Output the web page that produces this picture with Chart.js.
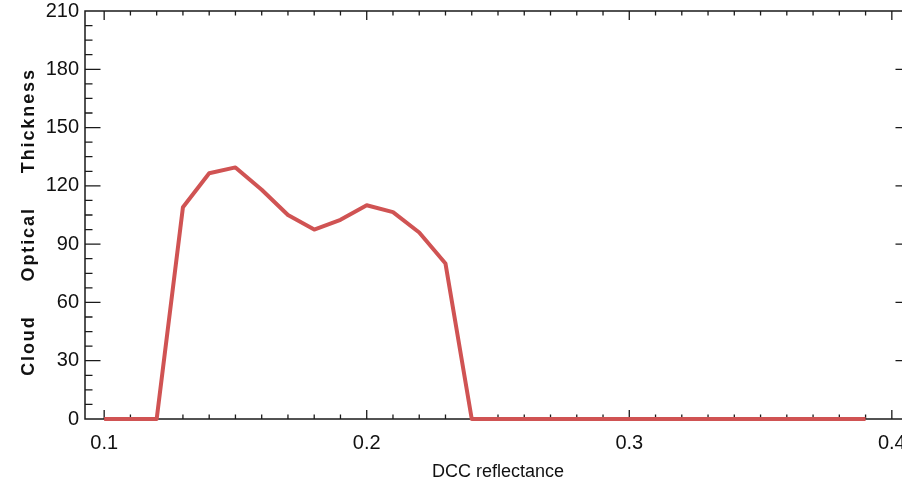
<!DOCTYPE html>
<html>
<head>
<meta charset="utf-8">
<script src="https://cdn.jsdelivr.net/npm/chart.js@4/dist/chart.umd.min.js"></script>
<style>
  html, body { margin: 0; padding: 0; background: #fff; overflow: hidden; }
  #wrap { width: 920px; height: 483px; }
</style>
</head>
<body>
<div id="wrap"><canvas id="cotChart"></canvas></div>
<script>
// DCC reflectance vs cloud optical thickness
const reflectance = [0.10, 0.11, 0.12, 0.13, 0.14, 0.15, 0.16, 0.17, 0.18, 0.19,
                     0.20, 0.21, 0.22, 0.23, 0.24, 0.25, 0.26, 0.27, 0.28, 0.29,
                     0.30, 0.31, 0.32, 0.33, 0.34, 0.35, 0.36, 0.37, 0.38, 0.39];
const thickness = [0, 0, 0, 109, 126.5, 129.5, 118, 105, 97.5, 102.5,
                   110, 106.5, 96, 80, 0, 0, 0, 0, 0, 0,
                   0, 0, 0, 0, 0, 0, 0, 0, 0, 0];
const xTickValues = [0.1, 0.2, 0.3, 0.4];
const yTickValues = [0, 30, 60, 90, 120, 150, 180, 210];
const xMinorStep = 0.01;
const yMinorStep = 7.5;
const yTitle = 'Cloud Optical Thickness';

const labelFont = "'Liberation Sans Narrow', 'Arial Narrow', 'Liberation Sans', sans-serif";
const axisColor = '#1a1a1a';

// IDL style box: ticks point inward on all four sides
const boxAxes = {
  id: 'boxAxes',
  beforeDatasetsDraw(chart) {
    const { ctx, chartArea: a, scales: { x, y } } = chart;
    ctx.save();
    ctx.strokeStyle = axisColor;
    ctx.lineWidth = 1.5;
    ctx.strokeRect(a.left, a.top, a.right - a.left, a.bottom - a.top);

    ctx.lineWidth = 1.3;
    ctx.beginPath();
    const nx = Math.round((x.max - x.min) / xMinorStep) + 2;
    const k0 = Math.floor(x.min / xMinorStep);
    for (let k = k0; k <= k0 + nx; k++) {
      const px = x.getPixelForValue(k * xMinorStep);
      if (px < a.left + 1 || px > a.right - 1) continue;
      const len = k % 10 === 0 ? 9 : 4.5;
      ctx.moveTo(px, a.bottom); ctx.lineTo(px, a.bottom - len);
      ctx.moveTo(px, a.top); ctx.lineTo(px, a.top + len);
    }
    for (let i = 0; i * yMinorStep <= y.max + 1e-9; i++) {
      const py = y.getPixelForValue(i * yMinorStep);
      if (py > a.bottom - 1 || py < a.top + 1) continue;
      const len = i % 4 === 0 ? 15.5 : 7.5;
      ctx.moveTo(a.left, py); ctx.lineTo(a.left + len, py);
      ctx.moveTo(a.right, py); ctx.lineTo(a.right - len, py);
    }
    ctx.stroke();
    ctx.restore();
  },
  afterDraw(chart) {
    // spaced-out bold y title
    const { ctx, chartArea: a } = chart;
    ctx.save();
    ctx.translate(29, (a.top + a.bottom) / 2 + 7);
    ctx.rotate(-Math.PI / 2);
    ctx.font = "bold 18px 'Liberation Sans', Arial, sans-serif";
    ctx.letterSpacing = '1.9px';
    ctx.wordSpacing = '27px';
    ctx.fillStyle = '#111';
    ctx.textAlign = 'center';
    ctx.textBaseline = 'middle';
    ctx.fillText(yTitle, 0, 0);
    ctx.restore();
  }
};

const ctx = document.getElementById('cotChart').getContext('2d');
new Chart(ctx, {
  type: 'line',
  data: {
    datasets: [{
      data: reflectance.map((r, i) => ({ x: r, y: thickness[i] })),
      borderColor: '#d05353',
      borderWidth: 4,
      borderJoinStyle: 'round',
      pointRadius: 0,
      tension: 0,
      fill: false,
      clip: 6
    }]
  },
  options: {
    responsive: true,
    maintainAspectRatio: false,
    animation: false,
    layout: { padding: { top: 11, right: 9, bottom: 0, left: 0 } },
    plugins: { legend: { display: false }, tooltip: { enabled: false } },
    scales: {
      x: {
        type: 'linear',
        min: 0.0927,
        max: 0.4073,
        afterBuildTicks: s => { s.ticks = xTickValues.map(v => ({ value: v })); },
        afterFit: s => { s.height = 64; s.paddingLeft = 0; s.paddingRight = 0; },
        grid: { display: false, drawTicks: false },
        border: { display: false },
        ticks: {
          color: '#111',
          padding: 12,
          maxRotation: 0,
          font: { family: labelFont, size: 20 },
          callback: v => String(v)
        },
        title: {
          display: true,
          text: 'DCC reflectance',
          color: '#111',
          padding: { top: 0, bottom: 0 },
          font: { family: labelFont, size: 18 }
        }
      },
      y: {
        min: 0,
        max: 210,
        afterBuildTicks: s => { s.ticks = yTickValues.map(v => ({ value: v })); },
        afterFit: s => { s.width = 85; s.paddingTop = 0; s.paddingBottom = 0; },
        grid: { display: false, drawTicks: false },
        border: { display: false },
        ticks: {
          color: '#111',
          padding: 6,
          font: { family: labelFont, size: 20 }
        }
      }
    }
  },
  plugins: [boxAxes]
});
</script>
</body>
</html>
